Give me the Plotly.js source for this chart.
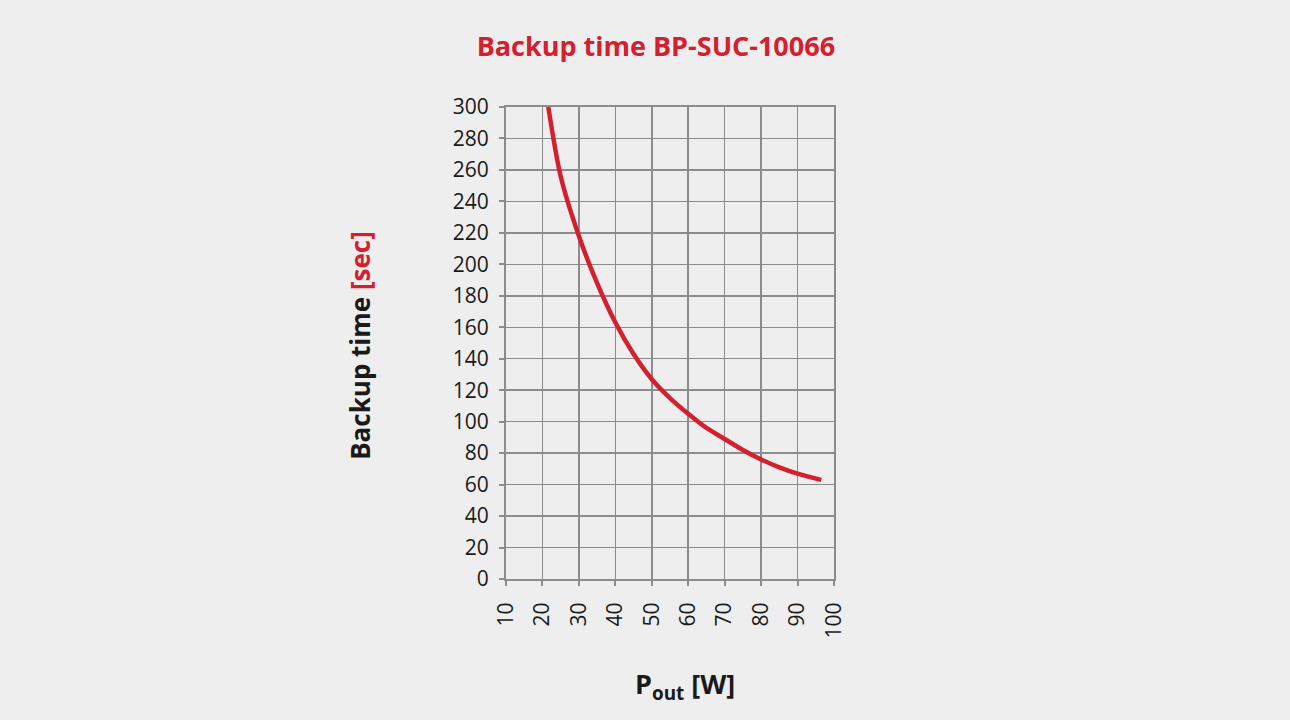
<!DOCTYPE html>
<html>
<head>
<meta charset="utf-8">
<script src="https://cdn.plot.ly/plotly-3.0.1.min.js"></script>
<style>
html,body{margin:0;padding:0;background:#eeeeee;}
#chart{width:1290px;height:720px;}
</style>
</head>
<body>
<div id="chart"></div>
<script>
const powerW = [21.6, 25, 30, 35, 40, 45, 50, 55, 60, 65, 70, 75, 80, 85, 90, 96.5];
const backupSec = [300, 256, 218, 188, 163, 143, 127, 115, 105, 96, 89, 82, 76, 71, 67, 63];
const xTicks = [10, 20, 30, 40, 50, 60, 70, 80, 90, 100];
const yTicks = [0, 20, 40, 60, 80, 100, 120, 140, 160, 180, 200, 220, 240, 260, 280, 300];

const gridColor = '#8c8c8c';
const red = '#d4202e';
const dark = '#1a1a1a';
const font = '"Open Sans", "Noto Sans", sans-serif';

Plotly.newPlot('chart', [{
  x: powerW,
  y: backupSec,
  type: 'scatter',
  mode: 'lines',
  line: {color: red, width: 4.5, shape: 'spline', smoothing: 0.8},
  cliponaxis: true,
  hoverinfo: 'x+y'
}], {
  width: 1290,
  height: 720,
  paper_bgcolor: '#eeeeee',
  plot_bgcolor: '#eeeeee',
  margin: {l: 506, r: 456, t: 107, b: 141},
  showlegend: false,
  font: {family: font, color: dark},
  title: {
    text: '<b>Backup time BP-SUC-10066</b>',
    font: {family: font, size: 27, color: red},
    xref: 'paper', x: 0.457, xanchor: 'center',
    yref: 'container', y: 0.935, yanchor: 'middle'
  },
  xaxis: {
    range: [10, 100],
    tickvals: xTicks,
    ticktext: xTicks.map(String),
    tickangle: -90,
    tickfont: {size: 21, color: dark, family: font},
    ticklabelstandoff: 8,
    showgrid: true, gridcolor: gridColor, gridwidth: 1.5,
    showline: true, linecolor: gridColor, linewidth: 2, mirror: true,
    ticks: 'outside', ticklen: 5, tickcolor: gridColor, tickwidth: 2,
    zeroline: false
  },
  yaxis: {
    range: [0, 300],
    tickvals: yTicks,
    ticktext: yTicks.map(String),
    tickfont: {size: 21, color: dark, family: font},
    ticklabelstandoff: 6,
    showgrid: true, gridcolor: gridColor, gridwidth: 1.5,
    showline: true, linecolor: gridColor, linewidth: 2, mirror: true,
    ticks: 'outside', ticklen: 5, tickcolor: gridColor, tickwidth: 2,
    zeroline: false
  },
  annotations: [
    {
      text: '<b>P<sub>out</sub> [W]</b>',
      xref: 'paper', yref: 'paper',
      x: 0.546, y: -0.225, xanchor: 'center', yanchor: 'middle',
      showarrow: false,
      font: {size: 27, color: dark, family: font}
    },
    {
      text: '<b>Backup time <span style="color:' + red + '">[sec]</span></b>',
      xref: 'paper', yref: 'paper',
      x: -0.445, y: 0.494, xanchor: 'center', yanchor: 'middle',
      textangle: -90,
      showarrow: false,
      font: {size: 26, color: dark, family: font}
    }
  ]
}, {displayModeBar: false, staticPlot: true});
</script>
</body>
</html>
